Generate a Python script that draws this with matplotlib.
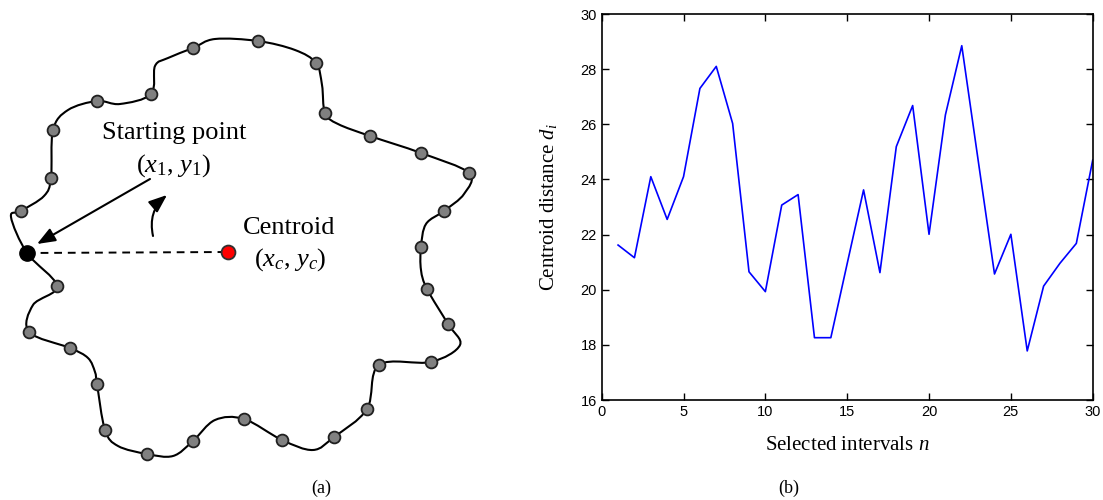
import numpy as np
import matplotlib
matplotlib.use("Agg")
import matplotlib.pyplot as plt
from matplotlib.path import Path
from matplotlib.patches import PathPatch, FancyArrowPatch

plt.rcParams["mathtext.fontset"] = "custom"
plt.rcParams["mathtext.rm"] = "Liberation Serif"
plt.rcParams["mathtext.it"] = "Liberation Serif:italic"

# panel (b): centroid distance per selected interval
n_vals = list(range(1, 31))
d_vals = [21.62, 21.16, 24.10, 22.55, 24.10, 27.30, 28.10, 26.03, 20.65, 19.93,
          23.07, 23.45, 18.26, 18.26, 20.95, 23.62, 20.62, 25.19, 26.68, 22.01,
          26.34, 28.85, 24.70, 20.57, 22.01, 17.78, 20.13, 20.96, 21.68, 24.70]

# panel (a): contour knots in pixel space, and which of them are sample points
contour_x = [27, 11, 21, 44, 51, 53, 68, 97, 120, 151, 155, 168, 193, 215, 258, 295, 316, 322,
             325, 338, 370, 421, 469, 464, 444, 426, 421, 421, 427, 448, 460, 431, 379, 367,
             334, 313, 282, 244, 215, 193, 173, 147, 118, 105, 97, 95, 88, 70, 29, 33, 57]
contour_y = [253, 217, 211, 196, 178, 130, 110, 101, 104, 94, 66, 58, 48, 39, 41, 50, 63, 85,
             113, 124, 136, 153, 173, 194, 211, 224, 247, 270, 289, 324, 345, 362, 365, 409,
             437, 450, 440, 419, 420, 441, 456, 454, 446, 430, 384, 372, 358, 348, 332, 305, 286]
contour_mark = [0, 0, 1, 0, 1, 1, 0, 1, 0, 1, 0, 0, 1, 0, 1, 0, 1, 0,
                1, 0, 1, 1, 1, 0, 1, 0, 1, 0, 1, 1, 0, 1, 1, 1,
                1, 0, 1, 1, 0, 1, 0, 1, 0, 1, 1, 0, 0, 1, 1, 0, 1]
start_pt = (27, 253)
centroid_pt = (228, 252)

serif = ["Liberation Serif", "DejaVu Serif"]
sans = ["Liberation Sans", "DejaVu Sans"]


def smooth_closed_path(xs, ys, tension=0.5):
    pts = np.column_stack([xs, ys]).astype(float)
    m = len(pts)
    verts = [pts[0]]
    codes = [Path.MOVETO]
    for i in range(m):
        p0, p1, p2, p3 = pts[i - 1], pts[i], pts[(i + 1) % m], pts[(i + 2) % m]
        c1 = p1 + (p2 - p0) * tension / 3
        c2 = p2 - (p3 - p1) * tension / 3
        verts += [c1, c2, p2]
        codes += [Path.CURVE4] * 3
    return Path(verts, codes)


fig = plt.figure(figsize=(11.03, 5.0), dpi=100)

# ---- panel (a)
axa = fig.add_axes([0, 0, 500 / 1103, 1])
axa.set_xlim(0, 500)
axa.set_ylim(500, 0)
axa.axis("off")

axa.add_patch(PathPatch(smooth_closed_path(contour_x, contour_y), fill=False,
                        lw=1.5, ec="black", zorder=1))
mx = [x for x, k in zip(contour_x, contour_mark) if k]
my = [y for y, k in zip(contour_y, contour_mark) if k]
axa.plot(mx, my, "o", ms=8.5, mfc="#808080", mec="#202020", mew=1.3, zorder=3)
axa.plot([start_pt[0], centroid_pt[0]], [start_pt[1], centroid_pt[1]],
         ls=(0, (4, 3)), color="black", lw=1.4, zorder=2)
axa.plot(*start_pt, "o", ms=11, mfc="black", mec="black", zorder=4)
axa.plot(*centroid_pt, "o", ms=10, mfc="red", mec="#303030", mew=1.3, zorder=4)

head = "-|>,head_length=11,head_width=4.3"
axa.add_patch(FancyArrowPatch((150, 179), (37, 244), arrowstyle=head,
                              mutation_scale=1, lw=1.5, color="black", shrinkA=0, shrinkB=0))
axa.add_patch(FancyArrowPatch((153, 236), (167, 195), connectionstyle="arc3,rad=-0.3",
                              arrowstyle=head, mutation_scale=1, lw=1.5, color="black",
                              shrinkA=0, shrinkB=0))

axa.text(174, 133, "Starting point", family=serif, fontsize=19, ha="center", va="center")
axa.text(173, 166, r"($x_1$, $y_1$)", family=serif, fontsize=19, ha="center", va="center")
axa.text(289, 228, "Centroid", family=serif, fontsize=19, ha="center", va="center")
axa.text(290, 260, r"($x_c$, $y_c$)", family=serif, fontsize=19, ha="center", va="center")
axa.text(321, 488, "(a)", family=serif, fontsize=13, ha="center", va="center")

# ---- panel (b)
axb = fig.add_axes([601.7 / 1103, 0.2, 491 / 1103, 0.772])
axb.plot(n_vals, d_vals, color="#0000ff", lw=1.2)
axb.set_xlim(0, 30)
axb.set_ylim(16, 30)
axb.set_xticks(range(0, 31, 5))
axb.set_yticks(range(16, 31, 2))
axb.tick_params(direction="in", top=True, right=True, length=5, width=1, labelsize=10.5)
for lab in axb.get_xticklabels() + axb.get_yticklabels():
    lab.set_family(sans)
for sp in axb.spines.values():
    sp.set_linewidth(1.2)
axb.set_xlabel(r"Selected intervals $n$", family=serif, fontsize=15, va="center")
axb.set_ylabel(r"Centroid distance $d_i$", family=serif, fontsize=15, va="center")
axb.xaxis.set_label_coords(0.5, -0.117)
axb.yaxis.set_label_coords(-0.109, 0.5)
fig.text(789 / 1103, 1 - 488 / 500, "(b)", family=serif, fontsize=13, ha="center", va="center")

fig.savefig("out.png", dpi=100)
